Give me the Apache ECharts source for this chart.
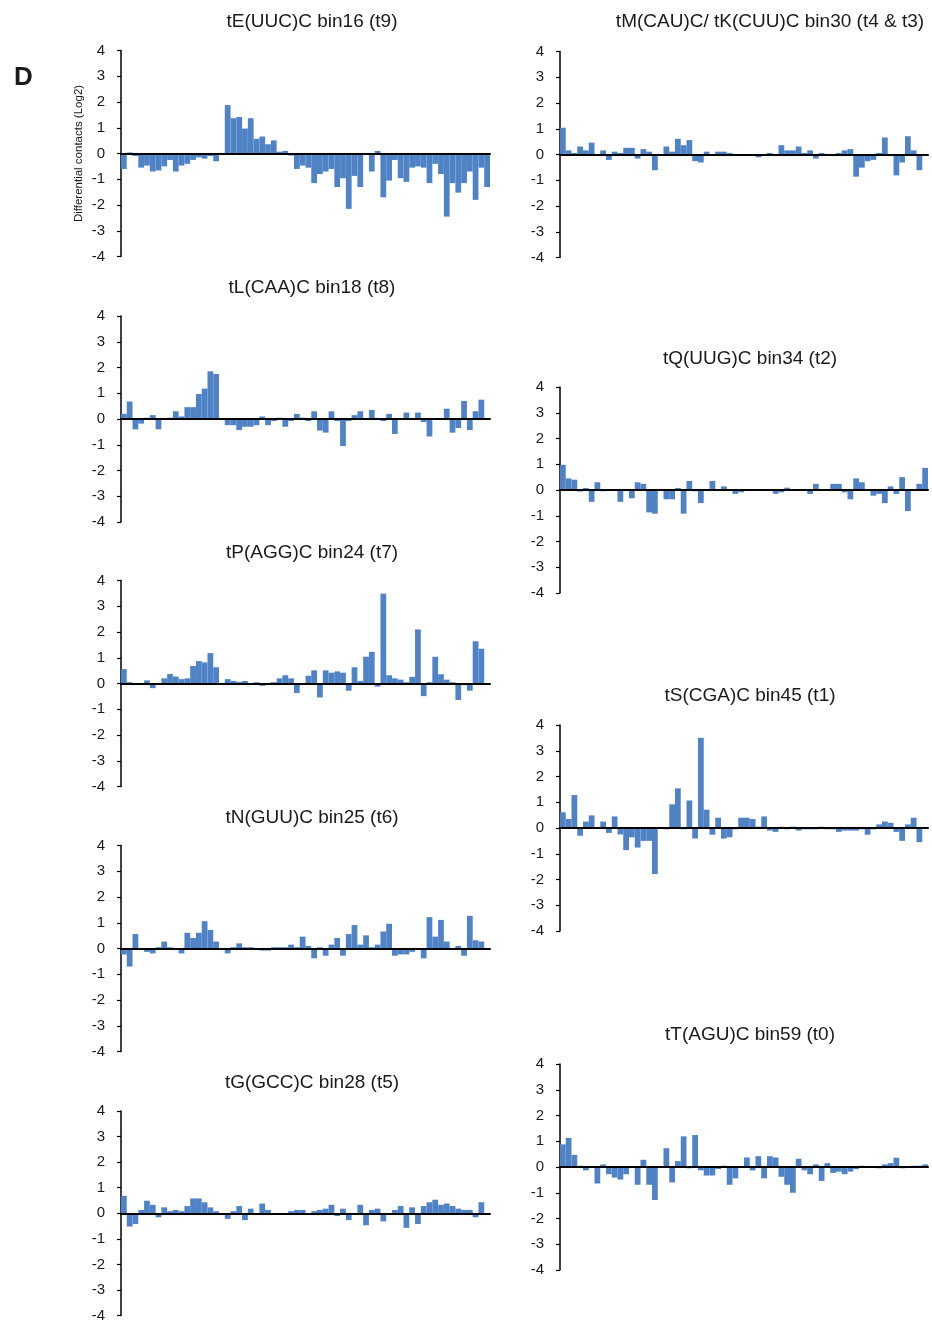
<!DOCTYPE html>
<html>
<head>
<meta charset="utf-8">
<script src="https://cdn.jsdelivr.net/npm/echarts@6/dist/echarts.min.js"></script>
<style>
html,body{margin:0;padding:0;background:#fff;}
#chart{width:932px;height:1323px;}
</style>
</head>
<body>
<div id="chart"></div>
<script>
// 64 bins per panel
var bins = [];
for (var b = 1; b <= 64; b++) bins.push(String(b));

var yTicks = [-4, -3, -2, -1, 0, 1, 2, 3, 4];

var titles = [
  "tE(UUC)C bin16 (t9)",
  "tL(CAA)C bin18 (t8)",
  "tP(AGG)C bin24 (t7)",
  "tN(GUU)C bin25 (t6)",
  "tG(GCC)C bin28 (t5)",
  "tM(CAU)C/ tK(CUU)C bin30 (t4 & t3)",
  "tQ(UUG)C bin34 (t2)",
  "tS(CGA)C bin45 (t1)",
  "tT(AGU)C bin59 (t0)"
];

var tE = [-0.6,0.04,-0.1,-0.55,-0.47,-0.7,-0.66,-0.5,-0.25,-0.7,-0.47,-0.4,-0.25,-0.15,-0.2,-0.1,-0.3,-0.02,1.88,1.37,1.42,0.97,1.37,0.57,0.66,0.36,0.51,0.07,0.1,-0.08,-0.6,-0.47,-0.55,-1.15,-0.8,-0.7,-0.6,-1.3,-0.96,-2.15,-0.87,-1.3,-0.05,-0.7,0.1,-1.7,-1.05,-0.25,-0.96,-1.1,-0.55,-0.5,-0.55,-1.15,-0.4,-0.8,-2.45,-1.15,-1.52,-1.15,-0.7,-1.8,-0.55,-1.3];
var tL = [0.2,0.68,-0.4,-0.18,0.05,0.15,-0.4,0,0.05,0.3,0.1,0.46,0.46,0.97,1.18,1.85,1.75,0,-0.24,-0.24,-0.43,-0.3,-0.3,-0.24,0.1,-0.24,-0.08,0.05,-0.3,-0.08,0.2,0.05,-0.08,0.3,-0.45,-0.53,0.3,-0.08,-1.05,-0.08,0.15,0.3,0.02,0.35,0.03,-0.08,0.2,-0.58,0,0.25,0.03,0.25,-0.12,-0.68,0.03,0,0.4,-0.53,-0.35,0.7,-0.43,0.3,0.75,0];
var tP = [0.56,0.05,0,-0.05,0.12,-0.18,0,0.2,0.37,0.27,0.17,0.2,0.68,0.87,0.82,1.18,0.63,0,0.17,0.1,0.06,0.1,0,0.05,-0.09,-0.03,0.05,0.2,0.32,0.2,-0.37,-0.05,0.3,0.51,-0.54,0.51,0.42,0.47,0.42,-0.28,0.63,0.1,1.04,1.23,-0.12,3.49,0.32,0.2,0.15,0.05,0.26,2.1,-0.49,0.05,1.04,0.36,0.15,0.05,-0.64,-0.05,-0.28,1.64,1.35,0];
var tN = [-0.23,-0.7,0.56,0.02,-0.13,-0.19,0.05,0.27,0.05,0,-0.19,0.61,0.41,0.61,1.06,0.72,0.27,0,-0.19,0.05,0.2,0.05,0.05,0,-0.08,-0.08,0.05,0.05,0.05,0.15,0.05,0.46,0.1,-0.38,0.05,-0.28,0.15,0.41,-0.28,0.56,0.91,0.15,0.51,0.05,0.15,0.66,0.96,-0.28,-0.23,-0.23,-0.13,0,-0.38,1.22,0.46,1.11,0.27,0,0.1,-0.28,1.27,0.32,0.27,0];
var tG = [0.68,-0.52,-0.42,0.13,0.49,0.33,-0.16,0.23,0.08,0.13,0.08,0.28,0.58,0.58,0.43,0.23,0.08,0,-0.22,0.08,0.28,-0.27,0.18,-0.06,0.38,0.13,-0.06,0,-0.06,0.08,0.13,0.13,0,0.08,0.13,0.18,0.33,-0.11,0.18,-0.27,0,0.33,-0.47,0.13,0.18,-0.32,0,0.13,0.28,-0.57,0.23,-0.42,0.28,0.43,0.53,0.33,0.38,0.28,0.18,0.13,0.13,-0.16,0.43,0];
var tM = [1.04,0.16,0.06,0.31,0.16,0.46,-0.04,0.16,-0.21,0.11,0.06,0.26,0.26,-0.16,0.21,0.11,-0.61,0,0.31,0.11,0.61,0.36,0.56,-0.26,-0.31,0.11,-0.04,0.11,0.11,0.06,-0.04,-0.04,0,0,-0.11,0.02,0.06,0.02,0.36,0.16,0.16,0.31,0.06,0.16,-0.16,0.06,-0.06,-0.06,0.06,0.16,0.21,-0.86,-0.51,-0.26,-0.21,0.06,0.66,-0.06,-0.81,-0.31,0.71,0.16,-0.61,0];
var tQ = [0.98,0.45,0.4,-0.06,0.08,-0.46,0.3,-0.05,0.04,0.04,-0.46,0.04,-0.32,0.3,0.24,-0.87,-0.92,0,-0.36,-0.36,0.08,-0.92,0.35,-0.05,-0.51,0.04,0.35,-0.03,0.14,0.04,-0.15,-0.09,-0.03,0.04,-0.03,0.04,0.04,-0.15,-0.09,0.09,0.04,-0.03,0.04,-0.15,0.24,0.04,0.04,0.24,0.24,-0.09,-0.36,0.45,0.3,-0.03,-0.22,-0.15,-0.51,0.14,-0.15,0.5,-0.82,-0.03,0.24,0.86];
var tS = [0.61,0.35,1.28,-0.3,0.25,0.49,0.04,0.25,-0.19,0.45,-0.25,-0.86,-0.36,-0.76,-0.5,-0.5,-1.79,0,-0.05,0.92,1.54,-0.05,1.07,-0.41,3.5,0.71,-0.26,0.4,-0.41,-0.36,-0.05,0.4,0.4,0.35,0.05,0.45,-0.1,-0.15,0.05,-0.05,0.05,-0.1,-0.05,-0.05,-0.05,0.05,-0.05,-0.05,-0.15,-0.1,-0.1,-0.1,-0.05,-0.26,-0.05,0.14,0.25,0.2,-0.15,-0.5,0.14,0.4,-0.55,0];
var tT = [0.88,1.13,0.47,0.05,-0.13,0,-0.64,0.1,-0.28,-0.41,-0.49,-0.28,0,-0.69,0.28,-0.69,-1.28,0,0.73,-0.6,0.23,1.19,-0.05,1.24,-0.13,-0.33,-0.33,-0.08,0.05,-0.69,-0.44,0,0.37,-0.13,0.42,-0.44,0.42,0.37,-0.38,-0.69,-1.0,0.32,-0.13,-0.28,0.1,-0.54,0.15,-0.23,-0.18,-0.28,-0.18,-0.08,0.05,0,0,-0.05,0.1,0.15,0.36,-0.05,0,0.05,0.05,0.1];

var panelData = [tE, tL, tP, tN, tG, tM, tQ, tS, tT];

// layout (pixel positions of each plot area); titleY = vertical centre of title
var layout = [
  {left:121, top:50.5,  width:369, titleX:312, titleY:20},
  {left:121, top:316,   width:369, titleX:312, titleY:286},
  {left:121, top:580.5, width:369, titleX:312, titleY:551},
  {left:121, top:845.5, width:369, titleX:312, titleY:816},
  {left:121, top:1111,  width:369, titleX:312, titleY:1081},
  {left:560, top:51.5,  width:368, titleX:770, titleY:20},
  {left:560, top:387,   width:368, titleX:750, titleY:357},
  {left:560, top:725,   width:368, titleX:750, titleY:694},
  {left:560, top:1064,  width:368, titleX:750, titleY:1033}
];
var plotH = 206;
var barColor = '#5083c6';
var font = 'Liberation Sans, Arial, sans-serif';
var titleSize = 19;

var grids = [], xAxes = [], yAxes = [], series = [], titleArr = [];
for (var i = 0; i < panelData.length; i++) {
  var L = layout[i];
  grids.push({left: L.left, top: L.top, width: L.width, height: plotH, containLabel: false});
  titleArr.push({
    text: titles[i], left: L.titleX, top: L.titleY - titleSize / 2 + 1.5, textAlign: 'center',
    padding: 0,
    textStyle: {fontFamily: font, fontSize: titleSize, fontWeight: 'normal', color: '#1a1a1a'}
  });
  xAxes.push({
    type: 'category', gridIndex: i, data: bins, z: 10,
    axisLine: {show: true, onZero: true, lineStyle: {color: '#000', width: 2}},
    axisTick: {show: false}, axisLabel: {show: false}, splitLine: {show: false}
  });
  var ya = {
    type: 'value', gridIndex: i, min: yTicks[0], max: yTicks[yTicks.length - 1], interval: 1,
    axisLine: {show: true, lineStyle: {color: '#000', width: 1.5}},
    axisTick: {show: true, inside: false, length: 4, lineStyle: {color: '#000', width: 1.2}},
    axisLabel: {fontFamily: font, fontSize: 15, color: '#1a1a1a', margin: 16},
    splitLine: {show: false}
  };
  if (i === 0) {
    ya.name = 'Differential contacts (Log2)';
    ya.nameLocation = 'middle';
    ya.nameRotate = 90;
    ya.nameGap = 36;
    ya.nameTextStyle = {fontFamily: font, fontSize: 11.5, color: '#1a1a1a'};
  }
  yAxes.push(ya);
  series.push({
    type: 'bar', xAxisIndex: i, yAxisIndex: i, data: panelData[i],
    barCategoryGap: '0%', barGap: '0%',
    itemStyle: {color: barColor},
    silent: true, animation: false
  });
}

var chart = echarts.init(document.getElementById('chart'), null, {renderer: 'canvas'});
chart.setOption({
  backgroundColor: '#fff',
  animation: false,
  title: titleArr,
  grid: grids,
  xAxis: xAxes,
  yAxis: yAxes,
  series: series,
  graphic: [{
    type: 'text', left: 14, top: 65,
    style: {text: 'D', font: 'bold 26px ' + font, fill: '#1a1a1a'}
  }]
});
</script>
</body>
</html>
